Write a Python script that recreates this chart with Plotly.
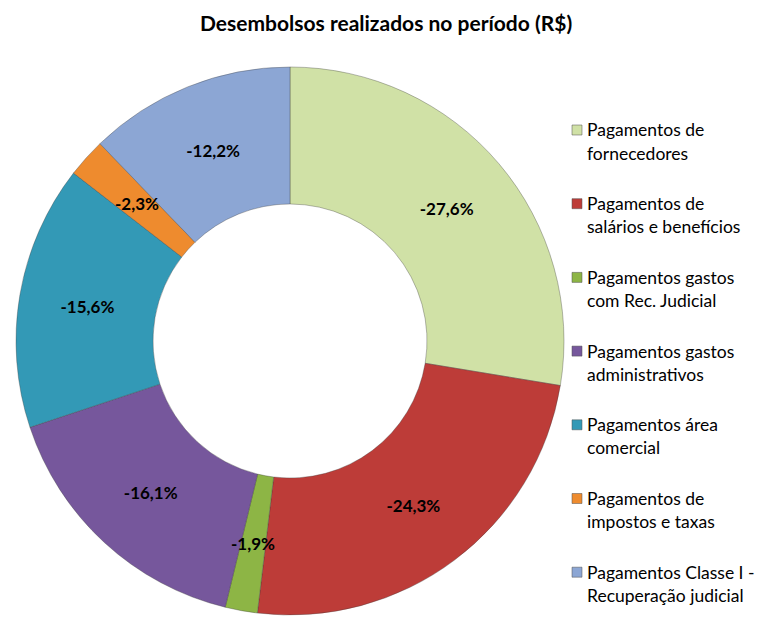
import math
import plotly.graph_objects as go

# Disbursement breakdown for the period (share of total, negative = outflow)
categories = [
    "Pagamentos de fornecedores",
    "Pagamentos de salários e benefícios",
    "Pagamentos gastos com Rec. Judicial",
    "Pagamentos gastos administrativos",
    "Pagamentos área comercial",
    "Pagamentos de impostos e taxas",
    "Pagamentos Classe I - Recuperação judicial",
]
legend_lines = [
    ["Pagamentos de", "fornecedores"],
    ["Pagamentos de", "salários e benefícios"],
    ["Pagamentos gastos", "com Rec. Judicial"],
    ["Pagamentos gastos", "administrativos"],
    ["Pagamentos área", "comercial"],
    ["Pagamentos de", "impostos e taxas"],
    ["Pagamentos Classe I -", "Recuperação judicial"],
]
share_pct = [-27.6, -24.3, -1.9, -16.1, -15.6, -2.3, -12.2]
colors = ["#D0E1A6", "#BD3C38", "#8DB545", "#76579C", "#3399B6", "#EE8B2E", "#8CA6D4"]

W, H = 761, 617
FONT = "Lato"
LABEL_SIZE = 17

slice_text = [f"{v:.1f}%".replace(".", ",") for v in share_pct]

# ring geometry (pixels)
cx, cy, R = 290, 341, 274
HOLE = 0.5

# thin slices get their label placed on the ring's mid-line instead of inside
thin = [abs(v) < 5 for v in share_pct]
positions = ["none" if t else "inside" for t in thin]

fig = go.Figure(
    go.Pie(
        labels=categories,
        values=[abs(v) for v in share_pct],
        text=slice_text,
        textinfo="text",
        textposition=positions,
        insidetextorientation="horizontal",
        textfont=dict(family=FONT, size=LABEL_SIZE, color="black", weight="bold"),
        hole=HOLE,
        sort=False,
        direction="clockwise",
        rotation=0,
        marker=dict(colors=colors, line=dict(color="rgba(60,60,60,0.35)", width=1)),
        domain=dict(
            x=[(cx - R) / W, (cx + R) / W],
            y=[(H - cy - R) / H, (H - cy + R) / H],
        ),
        showlegend=False,
        hoverinfo="label+text",
    )
)

annotations = []

# labels for thin slices, at the middle angle of each slice
total = sum(abs(v) for v in share_pct)
cum = 0.0
r_mid = R * (1 + HOLE) / 2
for v, txt, t in zip(share_pct, slice_text, thin):
    frac_mid = (cum + abs(v) / 2) / total
    cum += abs(v)
    if not t:
        continue
    ang = 2 * math.pi * frac_mid
    px = cx + r_mid * math.sin(ang)
    py = cy - r_mid * math.cos(ang)
    annotations.append(
        dict(
            text=f"<b>{txt}</b>", xref="paper", yref="paper",
            x=px / W, y=1 - py / H, xanchor="center", yanchor="middle",
            showarrow=False,
            font=dict(family=FONT, size=LABEL_SIZE, color="black"),
        )
    )

# Legend drawn as squares + text lines on the right
shapes = []
first_line_y = 130
step = 73.7
line_gap = 23
for i, (lines, col) in enumerate(zip(legend_lines, colors)):
    y0 = first_line_y + step * i
    shapes.append(
        dict(
            type="rect", xref="paper", yref="paper",
            x0=572 / W, x1=582 / W,
            y0=1 - (y0 - 5) / H, y1=1 - (y0 + 5) / H,
            fillcolor=col, line=dict(color="rgba(80,80,80,0.5)", width=1),
        )
    )
    for j, t in enumerate(lines):
        annotations.append(
            dict(
                text=t, xref="paper", yref="paper",
                x=585 / W, y=1 - (y0 + j * line_gap) / H,
                xanchor="left", yanchor="middle", showarrow=False,
                font=dict(family=FONT, size=17.5, color="black"),
            )
        )

annotations.append(
    dict(
        text="<b>Desembolsos realizados no período (R$)</b>",
        xref="paper", yref="paper", x=386 / W, y=1 - 23 / H,
        xanchor="center", yanchor="middle", showarrow=False,
        font=dict(family=FONT, size=21, color="black"),
    )
)

fig.update_layout(
    width=W, height=H,
    margin=dict(l=0, r=0, t=0, b=0),
    paper_bgcolor="white",
    plot_bgcolor="white",
    uniformtext=dict(minsize=LABEL_SIZE, mode="show"),
    shapes=shapes,
    annotations=annotations,
)

fig.write_html("out.html")
